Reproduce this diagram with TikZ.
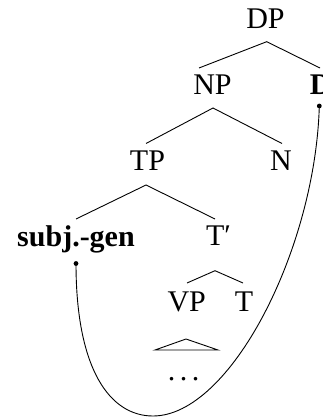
\documentclass[tikz,border=0pt]{standalone}
\usepackage{fontspec}
\setmainfont{Liberation Serif}
\begin{document}
\begin{tikzpicture}[x=1pt,y=1pt,
  every node/.style={font=\fontsize{30}{36}\selectfont, inner sep=0pt, anchor=base},
  branch/.style={line width=0.9pt},
  link/.style={line width=0.9pt},
  pin/.style={fill=black}]
\useasboundingbox (0,0) rectangle (322,-419);
% nodes
\node (dp) at (265.5,-29) {DP};
\node (np) at (212.5,-95) {NP};
\node (d) at (320.8,-95) {\bfseries D};
\node (tp) at (147.5,-170.5) {TP};
\node (n) at (281,-170.5) {N};
\node (subj) at (76,-246) {\bfseries subj.-gen};
\node (tbar) at (218.5,-245.5) {T′};
\node (vp) at (186.7,-311.7) {VP};
\node (t) at (244,-311.7) {T};
\node (dots) at (183.5,-380) {.\kern4.5pt.\kern4.5pt.};
% branches
\draw[branch] ([shift={(-13.5,27)}]np.base) -- ([shift={(1.2,-12.7)}]dp.base) -- ([shift={(-0.8,27)}]d.base);
\draw[branch] ([shift={(-1.5,27)}]tp.base) -- ([shift={(0.5,-13)}]np.base) -- ([shift={(1,27)}]n.base);
\draw[branch] ([shift={(0,27)}]subj.base) -- ([shift={(-1.5,-14.5)}]tp.base) -- ([shift={(-3.5,26.5)}]tbar.base);
\draw[branch] ([shift={(0.3,28.7)}]vp.base) -- ([shift={(-3.5,-25.2)}]tbar.base) -- ([shift={(-1,28.7)}]t.base);
% triangle over the dots
\draw[branch] ([shift={(-28.5,30)}]dots.base) -- ([shift={(2.5,41)}]dots.base) -- ([shift={(34.5,30)}]dots.base) -- cycle;
% movement link
\coordinate (sd) at (76,-263.5);
\coordinate (dd) at (319.3,-106);
\coordinate (bottom) at (153,-416);
\fill[pin] (sd) circle (2.4);
\fill[pin] (dd) circle (2.4);
\draw[link] (sd) .. controls +(0,-106) and +(-43,0) .. (bottom)
  .. controls +(77,0) and +(-4,-144) .. (dd);
\end{tikzpicture}
\end{document}
